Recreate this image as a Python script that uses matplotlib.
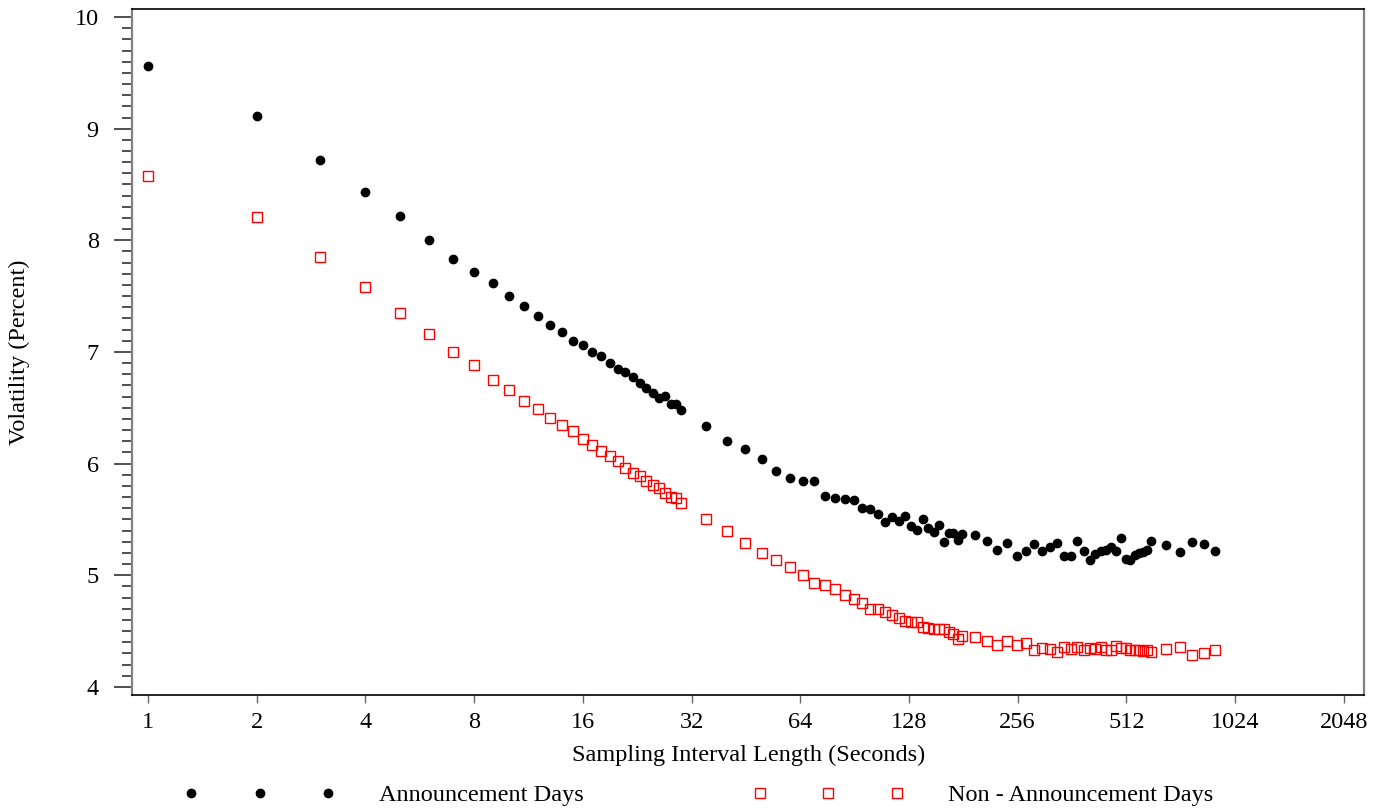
import matplotlib
matplotlib.use("Agg")
import matplotlib.pyplot as plt
from matplotlib.ticker import MultipleLocator

plt.rcParams['font.family'] = ['Liberation Serif', 'DejaVu Serif']

# sampling interval (seconds)
secs = [1, 2, 3, 4, 5, 6, 7, 8, 9, 10, 11, 12, 13, 14, 15, 16, 17, 18, 19, 20,
        21, 22, 23, 24, 25, 26, 27, 28, 29, 30,
        35, 40, 45, 50, 55, 60, 65, 70, 75, 80, 85, 90, 95, 100, 105, 110,
        115, 120, 125, 130, 135, 140, 145, 150, 155, 160, 165, 170, 175, 180,
        195, 210, 225, 240, 255, 270, 285, 300, 315, 330, 345, 360, 375, 390,
        405, 420, 435, 450, 465, 480, 495, 510, 525, 540, 555, 570, 585, 600,
        660, 720, 780, 840, 900]

# volatility, announcement days
vol_ann = [9.56, 9.11, 8.72, 8.43, 8.22, 8.00, 7.83, 7.72, 7.62, 7.50,
           7.41, 7.32, 7.24, 7.18, 7.10, 7.06, 7.00, 6.96, 6.90, 6.85,
           6.82, 6.78, 6.72, 6.68, 6.63, 6.59, 6.61, 6.53, 6.53, 6.48,
           6.34, 6.20, 6.13, 6.04, 5.93, 5.87, 5.84, 5.84, 5.71, 5.69,
           5.68, 5.67, 5.60, 5.59, 5.55, 5.48, 5.52, 5.49, 5.53, 5.44,
           5.41, 5.50, 5.42, 5.39, 5.45, 5.30, 5.38, 5.38, 5.32, 5.37,
           5.36, 5.31, 5.23, 5.29, 5.17, 5.22, 5.28, 5.22, 5.25, 5.29,
           5.17, 5.17, 5.31, 5.22, 5.14, 5.19, 5.22, 5.23, 5.25, 5.22,
           5.33, 5.15, 5.14, 5.18, 5.20, 5.21, 5.23, 5.31,
           5.27, 5.21, 5.30, 5.28, 5.22]

# volatility, non-announcement days
vol_non = [8.58, 8.21, 7.85, 7.58, 7.35, 7.16, 7.00, 6.88, 6.75, 6.66,
           6.56, 6.49, 6.41, 6.35, 6.29, 6.22, 6.17, 6.11, 6.07, 6.02,
           5.96, 5.92, 5.89, 5.84, 5.81, 5.78, 5.74, 5.70, 5.69, 5.65,
           5.50, 5.40, 5.29, 5.20, 5.14, 5.07, 5.00, 4.93, 4.91, 4.88,
           4.82, 4.79, 4.75, 4.70, 4.70, 4.67, 4.64, 4.62, 4.59, 4.58,
           4.58, 4.54, 4.53, 4.52, 4.52, 4.52, 4.49, 4.47, 4.43, 4.46,
           4.45, 4.41, 4.38, 4.41, 4.38, 4.39, 4.33, 4.35, 4.34, 4.31,
           4.36, 4.34, 4.36, 4.33, 4.35, 4.34, 4.36, 4.33, 4.33, 4.37,
           4.35, 4.35, 4.33, 4.33, 4.33, 4.32, 4.33, 4.31,
           4.34, 4.36, 4.29, 4.30, 4.33]

xticks = [1, 2, 4, 8, 16, 32, 64, 128, 256, 512, 1024, 2048]

fs = 17.5

fig = plt.figure(figsize=(13.91, 8.10), dpi=100)
ax = fig.add_axes([0.0949, 0.142, 0.8859, 0.8465])

ax.plot(secs, vol_ann, 'o', color='black', markersize=6, linestyle='none',
        label='Announcement Days')
ax.plot(secs, vol_non, 's', color='red', markerfacecolor='none', markersize=6.5,
        markeredgewidth=1.0, linestyle='none', label='Non - Announcement Days')

ax.set_xscale('log', base=2)
ax.set_xlim(0.903, 2335)
ax.set_ylim(3.928, 10.069)
ax.set_xticks(xticks)
ax.set_xticklabels([str(t) for t in xticks])
ax.xaxis.set_minor_locator(plt.NullLocator())
ax.yaxis.set_major_locator(MultipleLocator(1))
ax.yaxis.set_minor_locator(MultipleLocator(0.1))

ax.tick_params(axis='x', which='major', direction='out', length=6, width=1,
               color='#666666', labelsize=fs, pad=6)
ax.tick_params(axis='y', which='major', direction='out', length=13, width=1.2,
               color='#333333', labelsize=fs, pad=11)
ax.tick_params(axis='y', which='minor', direction='out', length=7, width=1.2,
               color='#333333')

for s in ['left', 'right']:
    ax.spines[s].set_color('#808080')
    ax.spines[s].set_linewidth(1.6)
for s in ['top', 'bottom']:
    ax.spines[s].set_color('black')
    ax.spines[s].set_linewidth(1.2)

ax.set_xlabel('Sampling Interval Length (Seconds)', fontsize=fs, labelpad=9)
ax.set_ylabel('Volatility (Percent)', fontsize=fs, labelpad=32)

fig.legend(loc='center left', bbox_to_anchor=(183.7 / 1391, 1 - 795 / 810),
           ncol=2, numpoints=3, frameon=False, fontsize=fs, borderpad=0,
           borderaxespad=0, handlelength=6.24, handletextpad=1.8,
           columnspacing=6.94)

fig.savefig('out.png', dpi=100)
